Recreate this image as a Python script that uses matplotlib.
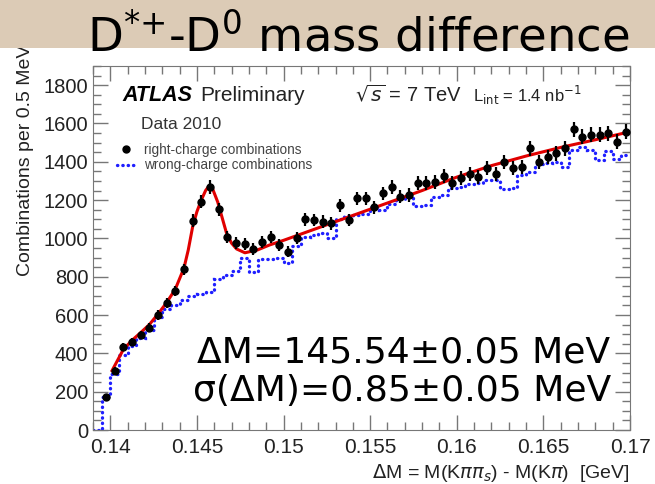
import matplotlib
matplotlib.use('Agg')
import matplotlib.pyplot as plt
import numpy as np
from matplotlib.ticker import MultipleLocator
from matplotlib.lines import Line2D
from matplotlib.patches import Rectangle

# binning of the delta-M histogram (GeV)
bin_lo = 0.139
bin_width = 0.0005

# right-charge combinations, bins starting at 0.1395
rc_counts = [172, 310, 435, 459, 496, 535, 600, 665, 727, 840,
             1092, 1192, 1270, 1152, 1009, 978, 971, 946, 983, 1009,
             966, 931, 1000, 1100, 1096, 1087, 1078, 1174, 1096, 1209,
             1209, 1162, 1235, 1270, 1218, 1226, 1288, 1288, 1295, 1324,
             1288, 1314, 1336, 1322, 1366, 1336, 1400, 1366, 1374, 1470,
             1400, 1426, 1444, 1470, 1569, 1531, 1540, 1540, 1548, 1505,
             1557]

# wrong-charge combinations, bins starting at 0.139
wc_counts = [0, 170, 290, 390, 440, 480, 520, 590, 630, 650, 680,
             700, 710, 720, 790, 810, 830, 900, 826, 895, 895,
             900, 870, 960, 1010, 1020, 1030, 1000, 1100, 1115, 1120,
             1125, 1165, 1150, 1180, 1205, 1215, 1170, 1175, 1215, 1226,
             1265, 1270, 1285, 1290, 1305, 1305, 1260, 1265, 1330, 1345,
             1390, 1395, 1400, 1375, 1460, 1478, 1460, 1410, 1455, 1415,
             1435]

# fit curve
fit_x = [0.1401, 0.14075, 0.14125, 0.14175, 0.14225, 0.14275, 0.14325, 0.14375,
         0.14425, 0.1445, 0.14475, 0.145, 0.14525, 0.1455, 0.14568, 0.1459,
         0.1462, 0.14645, 0.1467, 0.147, 0.14729, 0.14777, 0.1485, 0.1492,
         0.150, 0.152, 0.154, 0.156, 0.158, 0.160, 0.162, 0.164, 0.166,
         0.168, 0.170]
fit_y = [310, 420, 468, 508, 550, 605, 665, 735,
         845, 940, 1060, 1140, 1200, 1250, 1272, 1260,
         1190, 1110, 1030, 975, 945, 925, 940, 966,
         990, 1055, 1120, 1185, 1250, 1320, 1380, 1430, 1475,
         1515, 1557]

x_ticks = [0.14, 0.145, 0.15, 0.155, 0.16, 0.165, 0.17]
x_tick_labels = ['0.14', '0.145', '0.15', '0.155', '0.16', '0.165', '0.17']

rc_x = bin_lo + bin_width * (np.arange(len(rc_counts)) + 1.5)
wc_edges = bin_lo + bin_width * np.arange(len(wc_counts) + 1)
rc_err = np.sqrt(rc_counts)

fig = plt.figure(figsize=(6.55, 4.84), dpi=100)
fig.patch.set_facecolor('white')

# beige banner behind the title
fig.patches.append(Rectangle((0, 1 - 48 / 484), 1, 48 / 484, transform=fig.transFigure,
                             facecolor='#dccbb6', edgecolor='none', zorder=0))
fig.text(0.547, 0.922, r'D$^{*{+}}$-D$^{0}$ mass difference', fontsize=33.5,
         family='DejaVu Sans', ha='center', va='center', color='black')

ax = fig.add_axes([93 / 655, 1 - 430 / 484, 537 / 655, 364 / 484])

wc_style = (0, (0.1, 1.5))
wc_line = ax.stairs(wc_counts, wc_edges, baseline=None, color='#1f1fff', lw=2.4,
                    linestyle=wc_style, zorder=2)
wc_line.set_capstyle('round')
ax.plot(fit_x, fit_y, color='#e00000', lw=2.2, zorder=3)
ax.errorbar(rc_x, rc_counts, yerr=rc_err, fmt='o', color='black', ms=5,
            elinewidth=1.6, capsize=0, zorder=4)

ax.set_xlim(0.139, 0.17)
ax.set_ylim(0, 1900)
ax.set_xticks(x_ticks)
ax.set_xticklabels(x_tick_labels)
ax.xaxis.set_minor_locator(MultipleLocator(0.001))
ax.yaxis.set_major_locator(MultipleLocator(200))
ax.yaxis.set_minor_locator(MultipleLocator(50))
ax.tick_params(which='both', direction='in', top=True, right=True, color='#777777',
               labelsize=14.5, labelcolor='#222222')
ax.tick_params(axis='x', labelsize=15, pad=6)
ax.tick_params(which='major', length=11, width=1)
ax.tick_params(which='minor', length=6, width=1)
for lab in ax.get_xticklabels() + ax.get_yticklabels():
    lab.set_family('Liberation Sans')
for sp in ax.spines.values():
    sp.set_color('#777777')

ax.set_ylabel('Combinations per 0.5 MeV', fontsize=14, family='Liberation Sans',
              color='#222222', loc='top')
ax.yaxis.set_label_coords(-0.11, 1.06)
ax.set_xlabel(r'$\Delta$M = M(K$\pi\pi_{s}$) - M(K$\pi$)  [GeV]', fontsize=14,
              family='Liberation Sans', color='#222222', loc='right', labelpad=3)

ax.text(0.054, 0.92, 'ATLAS', transform=ax.transAxes, fontsize=15.5, fontweight='bold',
        style='italic', family='Liberation Sans', va='center')
ax.text(0.199, 0.92, 'Preliminary', transform=ax.transAxes, fontsize=15,
        family='Liberation Sans', va='center', color='#222222')
ax.text(0.487, 0.92, r'$\sqrt{s}$ = 7 TeV', transform=ax.transAxes, fontsize=14.5,
        family='Liberation Sans', va='center', color='#222222')
ax.text(0.708, 0.92, r'L$_{\rm int}$ = 1.4 nb$^{-1}$', transform=ax.transAxes, fontsize=12,
        family='Liberation Sans', va='center', color='#222222')
ax.text(0.09, 0.838, 'Data 2010', transform=ax.transAxes, fontsize=12.5,
        family='Liberation Sans', va='center', color='#333333')

handles = [Line2D([], [], marker='o', color='black', ms=5, linestyle='none'),
           Line2D([], [], color='#1f1fff', lw=2.4, linestyle=wc_style,
                  dash_capstyle='round')]
ax.legend(handles, ['right-charge combinations', 'wrong-charge combinations'],
          loc='upper left', bbox_to_anchor=(0.022, 0.822), frameon=False,
          prop={'family': 'Liberation Sans', 'size': 9.8}, handlelength=1.3,
          handletextpad=0.7, labelspacing=0.1, labelcolor='#444444')

fig.text(0.301, 0.272, r'ΔM=145.54±0.05 MeV', fontsize=26, family='DejaVu Sans',
         va='center', ha='left')
fig.text(0.295, 0.193, r'σ(ΔM)=0.85±0.05 MeV', fontsize=26, family='DejaVu Sans',
         va='center', ha='left')

fig.savefig('out.png', dpi=100)
